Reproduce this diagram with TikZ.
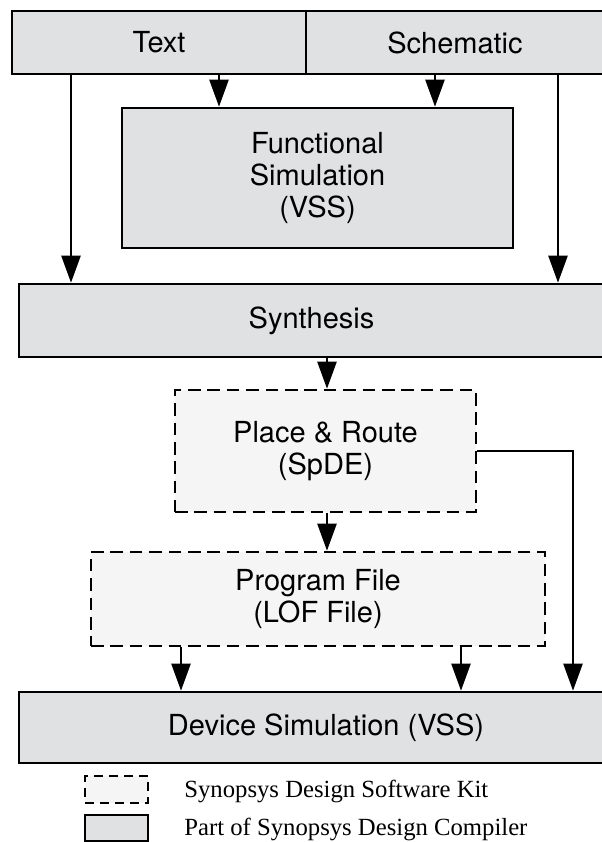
\documentclass[tikz,border=0pt]{standalone}
\usepackage{fontspec}
\setmainfont{Liberation Serif}
\setsansfont{TeX Gyre Heros}
\usepackage{xcolor}
\usepackage{tikz}
\definecolor{compilergray}{RGB}{224, 225, 227}
\definecolor{kitgray}{RGB}{245, 245, 245}
\usetikzlibrary{arrows.meta, positioning}

\begin{document}
\begin{tikzpicture}[
    x=0.5pt, y=-0.5pt,
    compiler/.style={rectangle, draw, line width=1.3pt, fill=compilergray, font=\sffamily\fontsize{14.5}{16}\selectfont, align=center, inner sep=0pt},
    kit/.style={rectangle, draw, line width=1.3pt, dash pattern=on 6.3pt off 3.4pt, fill=kitgray, font=\sffamily\fontsize{14.5}{16}\selectfont, align=center, inner sep=0pt},
    legend/.style={anchor=base west, inner sep=0pt, font=\fontsize{12.35}{14}\selectfont},
    arrow/.style={-{Triangle[length=13.5pt, width=9.5pt]}, line width=1.2pt}
]
    \useasboundingbox (0,0) rectangle (601,842);

    % Entry boxes
    \node[compiler, minimum width=147pt, minimum height=31.5pt] (text) at (159, 42.5) {Text};
    \node[compiler, minimum width=149pt, minimum height=31.5pt] (schem) at (455, 42.5) {Schematic};

    % Compiler boxes
    \node[compiler, minimum width=195.5pt, minimum height=70pt] (funcsim) at (317.5, 178) {Functional\\Simulation\\(VSS)};
    \node[compiler, minimum width=292.5pt, minimum height=36.5pt] (synth) at (311.5, 320.5) {Synthesis};
    \node[compiler, minimum width=307pt, minimum height=35.5pt] (devsim) at (326, 727.5) {Device Simulation (VSS)};

    % Kit boxes
    \node[kit, minimum width=150.5pt, minimum height=61pt] (route) at (325.5, 451) {Place \& Route\\(SpDE)};
    \node[kit, minimum width=227pt, minimum height=47pt] (progfile) at (318, 599) {Program File\\(LOF File)};

    % Arrow columns
    \coordinate (c1) at (71, 0);
    \coordinate (c2) at (219, 0);
    \coordinate (c3) at (435, 0);
    \coordinate (c4) at (558, 0);
    \coordinate (c5) at (327, 0);
    \coordinate (c6) at (181, 0);
    \coordinate (c7) at (461, 0);
    \coordinate (c8) at (573, 0);

    % Arrows
    \draw[arrow] (text.south -| c1) -- (synth.north -| c1);
    \draw[arrow] (text.south -| c2) -- (funcsim.north -| c2);
    \draw[arrow] (schem.south -| c3) -- (funcsim.north -| c3);
    \draw[arrow] (schem.south -| c4) -- (synth.north -| c4);
    \draw[arrow] (synth.south -| c5) -- (route.north -| c5);
    \draw[arrow] (route.south -| c5) -- (progfile.north -| c5);
    \draw[arrow] (progfile.south -| c6) -- (devsim.north -| c6);
    \draw[arrow] (progfile.south -| c7) -- (devsim.north -| c7);
    \draw[arrow] (route.east) -- (route.east -| c8) -- (devsim.north -| c8);

    % Legend
    \node[kit, minimum width=31.5pt, minimum height=13.5pt, dash pattern=on 4.5pt off 3pt] (legkit) at (116.5, 789.5) {};
    \node[compiler, minimum width=31.5pt, minimum height=13pt] (legcomp) at (116.5, 828) {};
    \node[legend] (legkittext) at (184, 797) {Synopsys Design Software Kit};
    \node[legend] (legcomptext) at (184, 835) {Part of Synopsys Design Compiler};
\end{tikzpicture}
\end{document}
